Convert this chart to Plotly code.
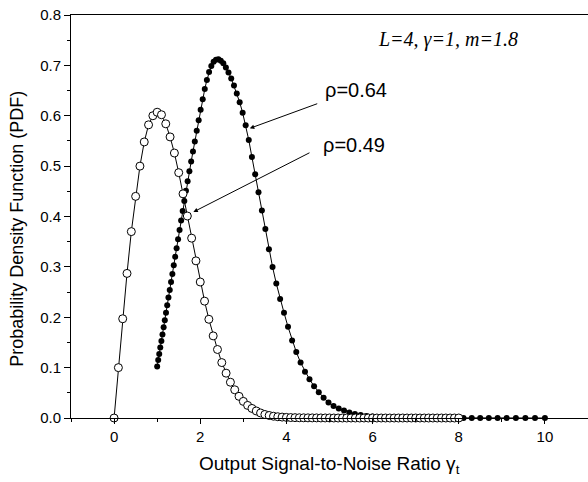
import plotly.graph_objects as go

# rho = 0.49 series (open circles), gamma_t = 0.0 .. 8.0 step 0.1
x_rho049 = [round(0.1 * i, 1) for i in range(81)]
y_rho049 = [
    0.000, 0.100, 0.197, 0.287, 0.370, 0.440, 0.500, 0.548, 0.582, 0.600,
    0.607, 0.602, 0.584, 0.558, 0.526, 0.487, 0.445, 0.401, 0.357, 0.312,
    0.270, 0.232, 0.196, 0.163, 0.136, 0.110, 0.089, 0.071, 0.056, 0.043,
    0.033, 0.025, 0.019, 0.014, 0.010, 0.007, 0.005, 0.0035, 0.0025, 0.0018,
    0.0012, 0.0009, 0.0007, 0.0005, 0.0004, 0.0003, 0.0002, 0.0002, 0.0001, 0.0001,
    0.0001, 0.0, 0.0, 0.0, 0.0, 0.0, 0.0, 0.0, 0.0, 0.0,
    0.0, 0.0, 0.0, 0.0, 0.0, 0.0, 0.0, 0.0, 0.0, 0.0,
    0.0, 0.0, 0.0, 0.0, 0.0, 0.0, 0.0, 0.0, 0.0, 0.0,
    0.0,
]

# rho = 0.64 series (filled dots)
x_rho064 = [
    1.000, 1.024, 1.048, 1.072, 1.098, 1.123, 1.150, 1.177, 1.205, 1.233,
    1.262, 1.292, 1.322, 1.353, 1.385, 1.418, 1.451, 1.485, 1.520, 1.556,
    1.592, 1.630, 1.668, 1.707, 1.748, 1.789, 1.831, 1.874, 1.918, 1.963,
    2.009, 2.057, 2.105, 2.154, 2.205, 2.257, 2.310, 2.365, 2.420, 2.477,
    2.535, 2.595, 2.656, 2.719, 2.783, 2.848, 2.915, 2.984, 3.054, 3.126,
    3.199, 3.275, 3.352, 3.431, 3.511, 3.594, 3.678, 3.765, 3.854, 3.944,
    4.037, 4.132, 4.229, 4.329, 4.431, 4.535, 4.642, 4.751, 4.863, 4.977,
    5.094, 5.214, 5.337, 5.462, 5.591, 5.722, 5.857, 5.995, 6.136, 6.280,
    6.428, 6.579, 6.734, 6.893, 7.055, 7.221, 7.391, 7.565, 7.743, 7.925,
    8.111, 8.302, 8.498, 8.698, 8.902, 9.112, 9.326, 9.546, 9.770, 10.000,
]
y_rho064 = [
    0.102, 0.115, 0.127, 0.140, 0.153, 0.166, 0.180, 0.194, 0.209, 0.224,
    0.239, 0.254, 0.270, 0.286, 0.303, 0.320, 0.337, 0.355, 0.373, 0.392,
    0.411, 0.431, 0.451, 0.470, 0.490, 0.509, 0.529, 0.549, 0.570, 0.591,
    0.612, 0.633, 0.653, 0.671, 0.687, 0.699, 0.707, 0.711, 0.712, 0.709,
    0.704, 0.696, 0.686, 0.674, 0.660, 0.644, 0.627, 0.606, 0.581, 0.552,
    0.518, 0.484, 0.448, 0.412, 0.375, 0.335, 0.300, 0.267, 0.236, 0.209,
    0.181, 0.154, 0.131, 0.110, 0.092, 0.077, 0.063, 0.051, 0.040, 0.031,
    0.024, 0.019, 0.015, 0.011, 0.008, 0.006, 0.004, 0.003, 0.002, 0.0015,
    0.001, 0.0008, 0.0006, 0.0005, 0.0004, 0.0003, 0.0002, 0.0002, 0.0001, 0.0001,
    0.0, 0.0, 0.0, 0.0, 0.0, 0.0, 0.0, 0.0, 0.0, 0.0,
]

x_tickvals = [0, 2, 4, 6, 8, 10]
y_tickvals = [0.0, 0.1, 0.2, 0.3, 0.4, 0.5, 0.6, 0.7, 0.8]

FONT = "Liberation Sans, Arial, sans-serif"

fig = go.Figure()
fig.add_trace(go.Scatter(
    x=x_rho064, y=y_rho064, mode="lines+markers", name="ρ=0.64",
    line=dict(color="black", width=1),
    marker=dict(symbol="circle", size=6, color="black", line=dict(width=0)),
    cliponaxis=False,
))
fig.add_trace(go.Scatter(
    x=x_rho049, y=y_rho049, mode="lines+markers", name="ρ=0.49",
    line=dict(color="black", width=1),
    marker=dict(symbol="circle", size=8, color="white", line=dict(color="black", width=1)),
    cliponaxis=False,
))

annos = [
    dict(x=7.76, y=0.752, xref="x", yref="y", text="<i>L=4, γ=1, m=1.8</i>", showarrow=False,
         font=dict(family="Liberation Serif, Times New Roman, serif", size=20, color="black"),
         xanchor="center", yanchor="middle"),
    dict(x=4.84, y=0.651, xref="x", yref="y", text="ρ=0.64", showarrow=False,
         font=dict(family=FONT, size=20, color="black"), xanchor="left", yanchor="middle"),
    dict(x=4.80, y=0.542, xref="x", yref="y", text="ρ=0.49", showarrow=False,
         font=dict(family=FONT, size=20, color="black"), xanchor="left", yanchor="middle"),
    dict(x=3.15, y=0.575, xref="x", yref="y", ax=4.75, ay=0.625, axref="x", ayref="y",
         text="", showarrow=True, arrowhead=2, arrowsize=0.9, arrowwidth=1, arrowcolor="black"),
    dict(x=1.84, y=0.409, xref="x", yref="y", ax=4.57, ay=0.528, axref="x", ayref="y",
         text="", showarrow=True, arrowhead=2, arrowsize=0.9, arrowwidth=1, arrowcolor="black"),
    # axis titles
    dict(x=0.5, y=-0.117, xref="paper", yref="paper", text="Output Signal-to-Noise Ratio γ<sub>t</sub>",
         showarrow=False, font=dict(family=FONT, size=19, color="black"),
         xanchor="center", yanchor="middle"),
    dict(x=-0.106, y=0.47, xref="paper", yref="paper", text="Probability Density Function (PDF)",
         showarrow=False, textangle=-90, font=dict(family=FONT, size=18, color="black"),
         xanchor="center", yanchor="middle"),
]

fig.update_layout(
    width=588, height=482,
    margin=dict(l=71, r=0, t=15, b=64, autoexpand=False),
    paper_bgcolor="white", plot_bgcolor="white",
    showlegend=False,
    font=dict(family=FONT, color="black", size=15),
    annotations=annos,
)
fig.update_xaxes(
    range=[-1, 11], tickvals=x_tickvals, ticks="outside", ticklen=5, tickwidth=1,
    tickcolor="black", showline=True, linecolor="black", linewidth=1, mirror=True,
    showgrid=False, zeroline=False, automargin=False,
    minor=dict(tickvals=[-1, 1, 3, 5, 7, 9, 11], ticks="outside", ticklen=3, tickcolor="black"),
    tickfont=dict(size=15),
)
fig.update_yaxes(
    range=[0, 0.8], tickvals=y_tickvals, tickformat=".1f", ticks="outside", ticklen=6, tickwidth=1,
    tickcolor="black", showline=True, linecolor="black", linewidth=1,
    showgrid=False, zeroline=False, automargin=False,
    minor=dict(dtick=0.05, tick0=0, ticks="outside", ticklen=3, tickcolor="black"),
    tickfont=dict(size=15),
)

# remove the default 8px page margin so the 588x482 figure fills the window exactly
fig.write_html("out.html", config={"displayModeBar": False},
               post_script="document.body.style.margin='0';")
